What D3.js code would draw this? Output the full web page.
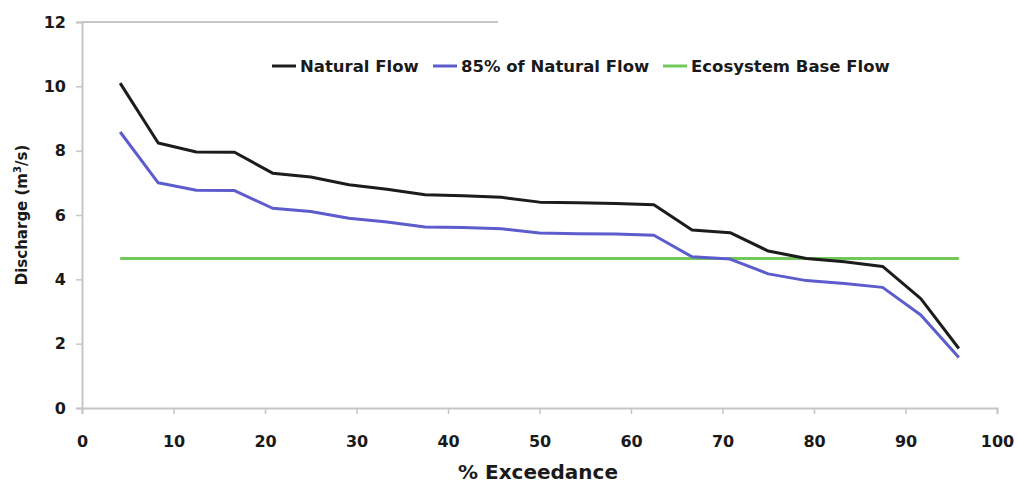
<!DOCTYPE html>
<html>
<head>
<meta charset="utf-8">
<script src="https://cdn.jsdelivr.net/npm/d3@7"></script>
<style>
  html, body { margin: 0; padding: 0; background: #fff; }
  svg { display: block; }
  text { font-family: "DejaVu Sans", sans-serif; font-weight: bold; fill: #1a1a1a; }
</style>
</head>
<body>
<svg id="chart" width="1018" height="485"></svg>
<script>
const exceedance = [4.17, 8.33, 12.5, 16.67, 20.83, 25, 29.17, 33.33, 37.5, 41.67, 45.83, 50, 54.17, 58.33, 62.5, 66.67, 70.83, 75, 79.17, 83.33, 87.5, 91.67, 95.83];
const naturalFlow = [10.1, 8.24, 7.96, 7.95, 7.3, 7.18, 6.94, 6.8, 6.63, 6.6, 6.55, 6.4, 6.38, 6.36, 6.32, 5.53, 5.45, 4.88, 4.65, 4.55, 4.4, 3.4, 1.85];
const natural85 = [8.58, 7.0, 6.77, 6.76, 6.21, 6.11, 5.9, 5.78, 5.63, 5.61, 5.57, 5.44, 5.42, 5.41, 5.37, 4.7, 4.63, 4.17, 3.96, 3.87, 3.75, 2.89, 1.57];
const ecoBaseFlow = [4.65, 4.65, 4.65, 4.65, 4.65, 4.65, 4.65, 4.65, 4.65, 4.65, 4.65, 4.65, 4.65, 4.65, 4.65, 4.65, 4.65, 4.65, 4.65, 4.65, 4.65, 4.65, 4.65];
const xTicks = [0, 10, 20, 30, 40, 50, 60, 70, 80, 90, 100];
const yTicks = [0, 2, 4, 6, 8, 10, 12];
const seriesNames = ["Natural Flow", "85% of Natural Flow", "Ecosystem Base Flow"];
const seriesColors = ["#1c1c1c", "#5c5ccd", "#72c85a"];

const svg = d3.select("#chart");
const x = d3.scaleLinear().domain([0, 100]).range([82, 997]);
const y = d3.scaleLinear().domain([0, 12]).range([408, 22]);
const axisColor = "#c6c6c6";

// top partial border line
svg.append("line")
  .attr("x1", x(0)).attr("x2", 498)
  .attr("y1", y(12)).attr("y2", y(12))
  .attr("stroke", axisColor).attr("stroke-width", 2);

// Y axis
const yAxis = svg.append("g").attr("transform", `translate(${x(0)},0)`)
  .call(d3.axisLeft(y).tickValues(yTicks).tickSize(6).tickPadding(10).tickFormat(d3.format("d")));
yAxis.select(".domain").attr("stroke", axisColor).attr("stroke-width", 2);
yAxis.selectAll(".tick line").attr("stroke", axisColor).attr("stroke-width", 1.5);
yAxis.selectAll(".tick text").attr("font-size", 16).attr("font-family", "DejaVu Sans").attr("font-weight", "bold").attr("fill", "#1a1a1a");

// X axis
const xAxis = svg.append("g").attr("transform", `translate(0,${y(0)})`)
  .call(d3.axisBottom(x).tickValues(xTicks).tickSize(6).tickSizeOuter(6).tickPadding(22).tickFormat(d3.format("d")));
xAxis.select(".domain").attr("stroke", axisColor).attr("stroke-width", 2);
xAxis.selectAll(".tick line").attr("stroke", axisColor).attr("stroke-width", 1.5);
xAxis.selectAll(".tick text").attr("font-size", 16).attr("font-family", "DejaVu Sans").attr("font-weight", "bold").attr("fill", "#1a1a1a");

// Lines
const allSeries = [naturalFlow, natural85, ecoBaseFlow];
const lineGen = d3.line().x((d, i) => x(exceedance[i])).y(d => y(d));
[2, 1, 0].forEach(k => {
  svg.append("path")
    .datum(allSeries[k])
    .attr("fill", "none")
    .attr("stroke", seriesColors[k])
    .attr("stroke-width", 3)
    .attr("stroke-linejoin", "round")
    .attr("d", lineGen);
});

// Legend
const legendX = [272, 433, 663];
const legend = svg.append("g");
seriesNames.forEach((name, k) => {
  const g = legend.append("g").attr("transform", `translate(${legendX[k]},66)`);
  g.append("line").attr("x1", 0).attr("x2", 24).attr("y1", 0).attr("y2", 0)
    .attr("stroke", seriesColors[k]).attr("stroke-width", 3);
  g.append("text").attr("x", 28).attr("y", 0).attr("dy", "0.36em")
    .attr("font-size", 16.5).text(name);
});

// Axis titles
svg.append("text")
  .attr("x", 538).attr("y", 479)
  .attr("text-anchor", "middle").attr("font-size", 20)
  .text("% Exceedance");

const yt = svg.append("text")
  .attr("transform", "translate(27,215) rotate(-90)")
  .attr("text-anchor", "middle").attr("font-size", 15);
yt.append("tspan").text("Discharge (m");
yt.append("tspan").attr("font-size", 10).attr("dy", -6).text("3");
yt.append("tspan").attr("dy", 6).text("/s)");
</script>
</body>
</html>
